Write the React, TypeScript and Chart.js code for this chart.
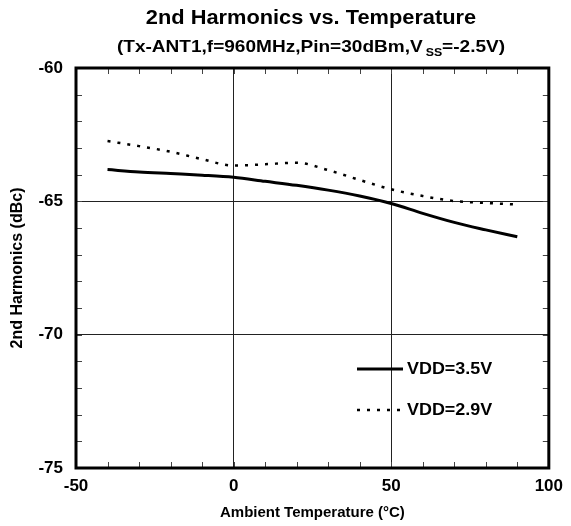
import React, { useEffect, useRef } from "react";
import { Chart, registerables } from "chart.js";

Chart.register(...registerables);

const temps = [-40, -30, -20, -10, 0, 10, 20, 30, 40, 50, 60, 70, 80, 90];
const vdd35 = [-63.81, -63.9, -63.96, -64.02, -64.1, -64.25, -64.4, -64.58, -64.8, -65.08, -65.45, -65.79, -66.07, -66.33];
const vdd29 = [-62.74, -62.93, -63.14, -63.42, -63.66, -63.61, -63.55, -63.83, -64.2, -64.55, -64.8, -64.99, -65.06, -65.12];
const seriesNames = ["VDD=3.5V", "VDD=2.9V"];
const xTicks = [-50, 0, 50, 100];
const yTicks = [-75, -70, -65, -60];

const FONT = '"Liberation Sans", Arial, sans-serif';

function stretchText(ctx: any, text: string, x: number, y: number, sx: number, align: string) {
  ctx.save();
  ctx.translate(x, y);
  ctx.scale(sx, 1);
  ctx.textAlign = align;
  ctx.fillText(text, 0, 0);
  ctx.restore();
}

const framePlugin = {
  id: "frame",
  afterDraw(chart: any) {
    const { ctx, chartArea: a, scales } = chart;
    const xs = scales.x;
    const ys = scales.y;
    ctx.save();
    // minor ticks
    ctx.strokeStyle = "#444";
    ctx.lineWidth = 1;
    ctx.beginPath();
    for (let v = -40; v < 100; v += 10) {
      const px = Math.round(xs.getPixelForValue(v)) + 0.5;
      ctx.moveTo(px, a.bottom);
      ctx.lineTo(px, a.bottom - 6);
      ctx.moveTo(px, a.top);
      ctx.lineTo(px, a.top + 6);
    }
    for (let v = -74; v < -60; v += 1) {
      const py = Math.round(ys.getPixelForValue(v)) + 0.5;
      ctx.moveTo(a.left, py);
      ctx.lineTo(a.left + 6, py);
      ctx.moveTo(a.right, py);
      ctx.lineTo(a.right - 6, py);
    }
    ctx.stroke();
    // frame
    ctx.strokeStyle = "#000";
    ctx.lineWidth = 3;
    ctx.strokeRect(a.left, a.top, a.right - a.left, a.bottom - a.top);

    // legend
    const lx0 = a.left + 281;
    const lx1 = a.left + 327;
    const ly = [a.top + 301, a.top + 342];
    ctx.lineWidth = 3;
    ctx.beginPath();
    ctx.moveTo(lx0, ly[0]);
    ctx.lineTo(lx1, ly[0]);
    ctx.stroke();
    ctx.lineWidth = 2.5;
    ctx.setLineDash([3, 7]);
    ctx.beginPath();
    ctx.moveTo(lx0, ly[1]);
    ctx.lineTo(lx1, ly[1]);
    ctx.stroke();
    ctx.setLineDash([]);
    ctx.fillStyle = "#000";
    ctx.textBaseline = "middle";
    ctx.font = `bold 16px ${FONT}`;
    stretchText(ctx, seriesNames[0], lx1 + 4, ly[0] + 1, 1.12, "left");
    stretchText(ctx, seriesNames[1], lx1 + 4, ly[1] + 1, 1.12, "left");

    // title
    const cx = 311;
    ctx.font = `bold 20px ${FONT}`;
    stretchText(ctx, "2nd Harmonics vs. Temperature", cx, 18, 1.09, "center");

    // subtitle with subscript
    const SX = 1.12;
    const p1 = "(Tx-ANT1,f=960MHz,Pin=30dBm,V";
    const sub = "SS";
    const p2 = "=-2.5V)";
    const mainFont = `bold 17px ${FONT}`;
    const subFont = `bold 11px ${FONT}`;
    ctx.font = mainFont;
    const w1 = ctx.measureText(p1).width * SX;
    const w2 = ctx.measureText(p2).width * SX;
    ctx.font = subFont;
    const ws = ctx.measureText(sub).width * SX;
    const gap = 3;
    const total = w1 + gap + ws + w2;
    let sx = cx - total / 2;
    ctx.font = mainFont;
    stretchText(ctx, p1, sx, 47, SX, "left");
    sx += w1 + gap;
    ctx.font = subFont;
    stretchText(ctx, sub, sx, 53, SX, "left");
    sx += ws;
    ctx.font = mainFont;
    stretchText(ctx, p2, sx, 47, SX, "left");
    ctx.restore();
  },
};

export default function App() {
  const ref = useRef<HTMLCanvasElement | null>(null);
  useEffect(() => {
    if (!ref.current) return;
    const chart = new Chart(ref.current, {
      type: "line",
      data: {
        datasets: [
          {
            label: seriesNames[0],
            data: temps.map((t, i) => ({ x: t, y: vdd35[i] })),
            borderColor: "#000",
            borderWidth: 3,
            pointRadius: 0,
            cubicInterpolationMode: "monotone",
            fill: false,
          },
          {
            label: seriesNames[1],
            data: temps.map((t, i) => ({ x: t, y: vdd29[i] })),
            borderColor: "#000",
            borderWidth: 2.5,
            borderDash: [3, 7],
            pointRadius: 0,
            cubicInterpolationMode: "monotone",
            fill: false,
          },
        ],
      },
      options: {
        animation: false,
        responsive: true,
        maintainAspectRatio: false,
        layout: { padding: { top: 68, right: 17, left: 0, bottom: 0 } },
        plugins: { legend: { display: false }, title: { display: false }, tooltip: { enabled: false } },
        scales: {
          x: {
            type: "linear",
            min: -50,
            max: 100,
            afterBuildTicks: (s: any) => {
              s.ticks = xTicks.map((v) => ({ value: v }));
            },
            afterFit: (s: any) => {
              s.height = 58;
            },
            ticks: {
              color: "#000",
              font: { family: FONT, size: 17, weight: "bold" },
              padding: 8,
              maxRotation: 0,
            },
            grid: { color: "#222", lineWidth: 1, drawTicks: false },
            border: { display: false },
            title: {
              display: true,
              text: "Ambient Temperature (°C)",
              color: "#000",
              font: { family: FONT, size: 15, weight: "bold" },
              padding: { top: 4, bottom: 4 },
            },
          },
          y: {
            type: "linear",
            min: -75,
            max: -60,
            afterBuildTicks: (s: any) => {
              s.ticks = yTicks.map((v) => ({ value: v }));
            },
            afterFit: (s: any) => {
              s.width = 76;
            },
            ticks: {
              color: "#000",
              font: { family: FONT, size: 17, weight: "bold" },
              padding: 13,
            },
            grid: { color: "#222", lineWidth: 1, drawTicks: false },
            border: { display: false },
            title: {
              display: true,
              text: "2nd Harmonics (dBc)",
              color: "#000",
              font: { family: FONT, size: 16, weight: "bold" },
              padding: { top: 8, bottom: 8 },
            },
          },
        },
      },
      plugins: [framePlugin],
    } as any);
    return () => chart.destroy();
  }, []);
  return (
    <div style={{ position: "fixed", left: 0, top: 0, width: 571, height: 526, background: "#fff" }}>
      <canvas ref={ref} />
    </div>
  );
}
